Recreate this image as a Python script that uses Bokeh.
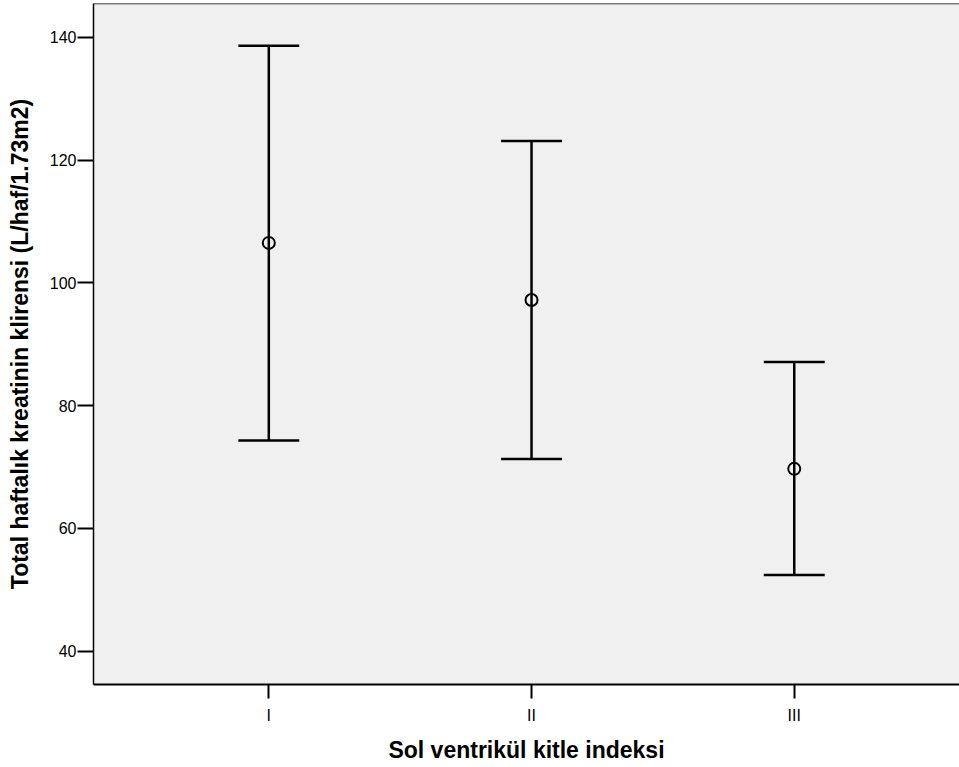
from bokeh.plotting import figure
from bokeh.models import ColumnDataSource, Range1d, FixedTicker, Span
from bokeh.embed import file_html
from bokeh.resources import INLINE

# Data
categories = ["I", "II", "III"]
positions = [1, 2, 3]
means = [106.5, 97.2, 69.7]
upper = [138.6, 123.1, 87.1]
lower = [74.3, 71.3, 52.4]
y_ticks = [40, 60, 80, 100, 120, 140]

CAP = 0.116
Y_START, Y_END = 34.58, 145.49
X_START, X_END = 0.3327, 3.629

src = ColumnDataSource(dict(
    x=positions,
    mean=means,
    up=upper,
    lo=lower,
    xl=[v - CAP for v in positions],
    xr=[v + CAP for v in positions],
))

p = figure(width=959, height=767, output_backend="svg", toolbar_location=None,
           x_range=Range1d(X_START, X_END), y_range=Range1d(Y_START, Y_END),
           min_border_left=93, min_border_right=0, min_border_top=3,
           min_border_bottom=83)

p.background_fill_color = "#f0f0f0"
p.border_fill_color = "white"
p.outline_line_color = None
p.grid.visible = False

# top border line of the plot frame
p.add_layout(Span(location=Y_END, dimension="width", line_color="black", line_width=1.5))

# error bars
p.segment(x0="x", y0="lo", x1="x", y1="up", source=src, line_color="black", line_width=2.5)
p.segment(x0="xl", y0="up", x1="xr", y1="up", source=src, line_color="black", line_width=2.5)
p.segment(x0="xl", y0="lo", x1="xr", y1="lo", source=src, line_color="black", line_width=2.5)
p.scatter(x="x", y="mean", source=src, marker="circle", size=12,
          fill_color=None, line_color="black", line_width=2)

font = "Liberation Sans"

# x axis
p.xaxis.ticker = FixedTicker(ticks=positions)
p.xaxis.major_label_overrides = {pos: c for pos, c in zip(positions, categories)}
p.xaxis.axis_label = "Sol ventrikül kitle indeksi"
p.xaxis.minor_tick_line_color = None
p.xaxis.major_tick_in = 0
p.xaxis.major_tick_out = 14
p.xaxis.major_tick_line_width = 2
p.xaxis.axis_line_width = 2
p.xaxis.major_label_standoff = 8
p.xaxis.axis_label_standoff = 10

# y axis
p.yaxis.ticker = FixedTicker(ticks=y_ticks)
p.yaxis.axis_label = "Total haftalık kreatinin klirensi (L/haf/1.73m2)"
p.yaxis.minor_tick_line_color = None
p.yaxis.major_tick_in = 0
p.yaxis.major_tick_out = 16
p.yaxis.major_tick_line_width = 2
p.yaxis.axis_line_width = 1.5
p.yaxis.major_label_standoff = 1
p.yaxis.axis_label_standoff = 14

for ax in (p.xaxis, p.yaxis):
    ax.axis_line_color = "black"
    ax.major_tick_line_color = "black"
    ax.major_label_text_font = font
    ax.major_label_text_font_size = "16px"
    ax.major_label_text_color = "black"
    ax.axis_label_text_font = font
    ax.axis_label_text_font_style = "bold"
    ax.axis_label_text_color = "black"
    ax.axis_label_text_font_size = "23px"

open("out.html", "w").write(file_html(p, INLINE))
